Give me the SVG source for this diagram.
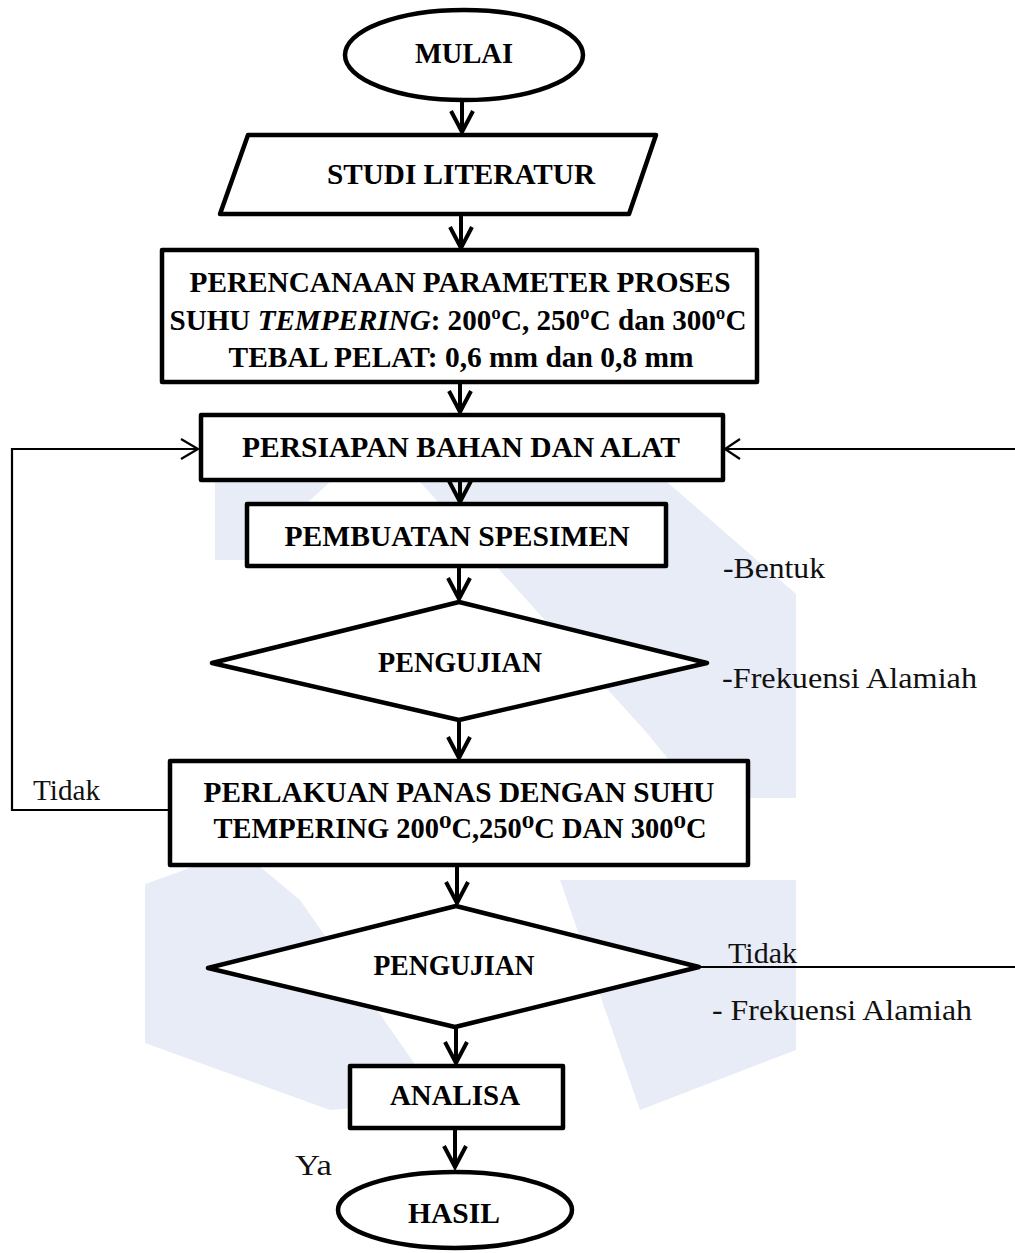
<svg xmlns="http://www.w3.org/2000/svg" width="1015" height="1253" viewBox="0 0 1015 1253">
<style>
.t{font-family:"Liberation Serif","Times New Roman","DejaVu Serif",serif;font-weight:bold;fill:#000;text-anchor:middle;font-size:30px}
.r{font-family:"Liberation Serif","Times New Roman",serif;font-weight:normal;fill:#111;font-size:29px}
.shape{fill:#fff;stroke:#000;stroke-width:4.5;stroke-linejoin:round}
.ln{fill:none;stroke:#000;stroke-width:4}
.thin{fill:none;stroke:#000;stroke-width:2.2}
.ah{fill:none;stroke:#000;stroke-width:4;stroke-linecap:butt;stroke-linejoin:miter}
.wm{fill:#e8ecf6}
</style>
<rect width="1015" height="1253" fill="#fff"/>
<g id="watermark">
<polygon class="wm" points="420,482 667,482 796,594 796,798 700,798 647,733"/>
<polygon class="wm" points="215,482 330,482 245,560 215,560"/>
<polygon class="wm" points="145,884 240,850 300,900 440,1100 330,1110 145,1043"/>
<polygon class="wm" points="560,880 796,880 796,1050 640,1110"/>
</g>
<g id="connectors">
<line class="ln" x1="462" y1="100" x2="462" y2="131"/>
<polyline class="ah" points="451,111 462,132 473,111"/>
<line class="ln" x1="461" y1="215" x2="461" y2="247"/>
<polyline class="ah" points="450,227 461,248 472,227"/>
<line class="ln" x1="460" y1="383" x2="460" y2="411"/>
<polyline class="ah" points="449,391 460,412 471,391"/>
<line class="ln" x1="460" y1="481" x2="460" y2="500"/>
<polyline class="ah" points="449,481 460,502 471,481"/>
<line class="ln" x1="459" y1="567" x2="459" y2="598"/>
<polyline class="ah" points="448,578 459,599 470,578"/>
<line class="ln" x1="459" y1="720" x2="459" y2="757"/>
<polyline class="ah" points="448,737 459,758 470,737"/>
<line class="ln" x1="457" y1="866" x2="457" y2="902"/>
<polyline class="ah" points="446,882 457,903 468,882"/>
<line class="ln" x1="456" y1="1027" x2="456" y2="1062"/>
<polyline class="ah" points="445,1042 456,1063 467,1042"/>
<line class="ln" x1="455" y1="1129" x2="455" y2="1166"/>
<polyline class="ah" points="444,1146 455,1167 466,1146"/>
<polyline class="thin" points="170,810 12,810 12,449 198,449"/>
<polyline class="thin" points="181,439 198,449 181,459"/>
<line class="thin" x1="1015" y1="449" x2="725" y2="449"/>
<polyline class="thin" points="740,439 725,449 740,459"/>
<line class="thin" x1="699" y1="967" x2="1015" y2="967"/>
</g>
<g id="mulai">
<ellipse class="shape" cx="464" cy="55" rx="119" ry="45"/>
<text class="t" x="464" y="63" font-size="25" textLength="98" lengthAdjust="spacingAndGlyphs">MULAI</text>
</g>
<g id="studi">
<polygon class="shape" points="248,135 656,135 629,214 220,214"/>
<text class="t" x="461" y="184" font-size="29" textLength="268" lengthAdjust="spacingAndGlyphs">STUDI LITERATUR</text>
</g>
<g id="perencanaan">
<rect class="shape" x="162" y="250" width="595" height="132"/>
<text class="t" x="460" y="292" textLength="541" lengthAdjust="spacingAndGlyphs">PERENCANAAN PARAMETER PROSES</text>
<text class="t" x="458" y="330" textLength="577" lengthAdjust="spacingAndGlyphs">SUHU <tspan font-style="italic">TEMPERING</tspan>: 200ºC, 250ºC dan 300ºC</text>
<text class="t" x="461" y="367" textLength="465" lengthAdjust="spacingAndGlyphs">TEBAL PELAT: 0,6 mm dan 0,8 mm</text>
</g>
<g id="persiapan">
<rect class="shape" x="201" y="415" width="522" height="65"/>
<text class="t" x="461" y="457" font-size="29" textLength="438" lengthAdjust="spacingAndGlyphs">PERSIAPAN BAHAN DAN ALAT</text>
</g>
<g id="pembuatan">
<rect class="shape" x="247" y="504" width="419" height="62"/>
<text class="t" x="457" y="546" font-size="33" textLength="345" lengthAdjust="spacingAndGlyphs">PEMBUATAN SPESIMEN</text>
</g>
<text class="r" x="723" y="578" font-size="30" textLength="102" lengthAdjust="spacingAndGlyphs">-Bentuk</text>
<g id="pengujian1">
<polygon class="shape" points="459,602 707,663 459,720 212,663"/>
<text class="t" x="460" y="672" font-size="28" textLength="164" lengthAdjust="spacingAndGlyphs">PENGUJIAN</text>
</g>
<text class="r" x="722" y="688" font-size="30" textLength="255" lengthAdjust="spacingAndGlyphs">-Frekuensi Alamiah</text>
<g id="perlakuan">
<rect class="shape" x="170" y="761" width="578" height="104"/>
<text class="t" x="459" y="802" font-size="32" textLength="511" lengthAdjust="spacingAndGlyphs">PERLAKUAN PANAS DENGAN SUHU</text>
<text class="t" x="460" y="838" font-size="32" textLength="493" lengthAdjust="spacingAndGlyphs">TEMPERING 200⁰C,250⁰C DAN 300⁰C</text>
</g>
<text class="r" x="33" y="800" font-size="31" textLength="67" lengthAdjust="spacingAndGlyphs">Tidak</text>
<g id="pengujian2">
<polygon class="shape" points="456,906 699,967 455,1027 208,968"/>
<text class="t" x="454" y="975" font-size="28" textLength="161" lengthAdjust="spacingAndGlyphs">PENGUJIAN</text>
</g>
<text class="r" x="728" y="963" font-size="28" textLength="69" lengthAdjust="spacingAndGlyphs">Tidak</text>
<text class="r" x="712" y="1020" font-size="28" textLength="260" lengthAdjust="spacingAndGlyphs">- Frekuensi Alamiah</text>
<g id="analisa">
<rect class="shape" x="350" y="1066" width="213" height="62"/>
<text class="t" x="455" y="1105" font-size="25" textLength="130" lengthAdjust="spacingAndGlyphs">ANALISA</text>
</g>
<text class="r" x="295" y="1175" font-size="22" textLength="37" lengthAdjust="spacingAndGlyphs">Ya</text>
<g id="hasil">
<ellipse class="shape" cx="455" cy="1210" rx="117" ry="38"/>
<text class="t" x="454" y="1223" font-size="30" textLength="92" lengthAdjust="spacingAndGlyphs">HASIL</text>
</g>
</svg>
